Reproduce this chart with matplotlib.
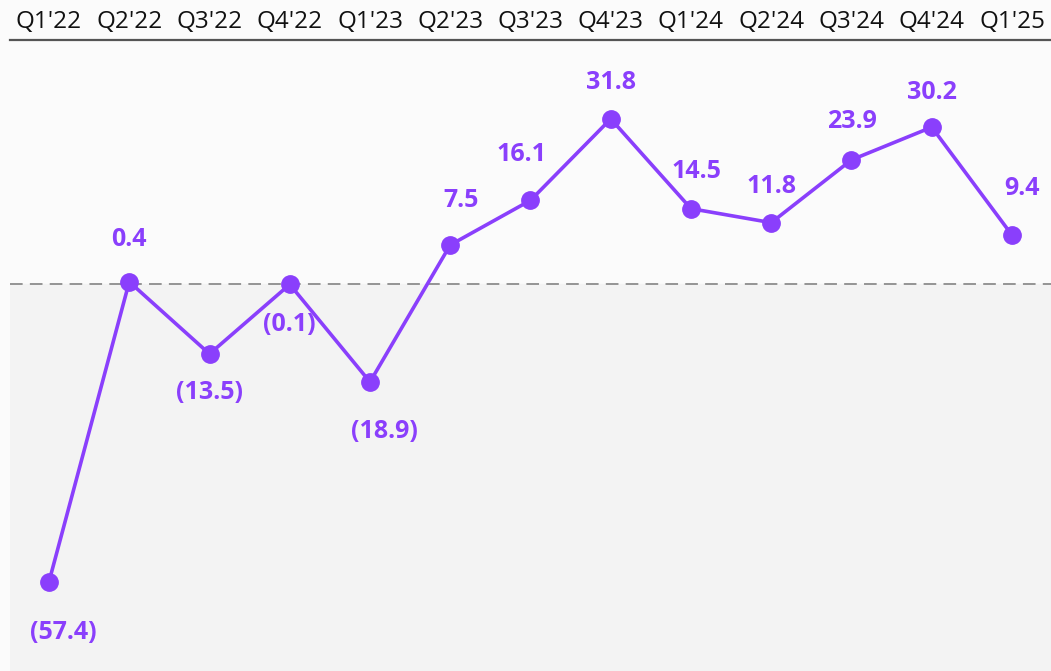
import matplotlib.pyplot as plt
import numpy as np

quarters = ["Q1'22", "Q2'22", "Q3'22", "Q4'22", "Q1'23", "Q2'23", "Q3'23",
            "Q4'23", "Q1'24", "Q2'24", "Q3'24", "Q4'24", "Q1'25"]
values = [-57.4, 0.4, -13.5, -0.1, -18.9, 7.5, 16.1, 31.8, 14.5, 11.8, 23.9, 30.2, 9.4]

# label nudges in pixels (dx, |dy|), placed above for positives, below for negatives
label_dx = [14, 0, 0, 0, 14, 11, -9, 0, 5, 0, 0, 0, 10]
label_dy = [51, 42, 39, 40, 50, 44, 46, 36, 37, 36, 38, 35, 47]

PURPLE = "#8a3ffc"


def fmt(v):
    # negatives shown in parentheses
    return f"({abs(v):.1f})" if v < 0 else f"{v:.1f}"


fig = plt.figure(figsize=(10.51, 6.71), dpi=100, facecolor="#fbfbfb")
ax = fig.add_axes([10 / 1051, 0, 1041 / 1051, 631 / 671])
ax.set_facecolor("#fbfbfb")

x = np.arange(len(quarters))
ax.set_xlim(-0.486, len(quarters) - 1 + 0.486)
ax.set_ylim(-74.6, 47.0)

ax.axhspan(-100, 0, color="#f3f3f3", zorder=0)
ax.axhline(0, color="#8c8c8c", lw=1.3, dashes=(7, 4), zorder=1)

ax.plot(x, values, color=PURPLE, lw=2.6, marker="o", markersize=12.5, zorder=3)

for xi, v, dx, dy in zip(x, values, label_dx, label_dy):
    off = dy if v >= 0 else -dy
    ax.annotate(fmt(v), (xi, v), xytext=(dx * 0.72, off * 0.72), textcoords="offset points",
                ha="center", va="center", color=PURPLE, fontsize=18,
                fontweight="bold", family="Open Sans")

ax.xaxis.tick_top()
ax.set_xticks(x)
ax.set_xticklabels(quarters, family="Open Sans", fontsize=17.5, color="#111111")
ax.tick_params(axis="x", length=0, pad=4)
ax.set_yticks([])
for s in ["left", "right", "bottom"]:
    ax.spines[s].set_visible(False)
ax.spines["top"].set_color("#555555")
ax.spines["top"].set_linewidth(1.6)

fig.savefig("out.png", dpi=100, facecolor=fig.get_facecolor())
